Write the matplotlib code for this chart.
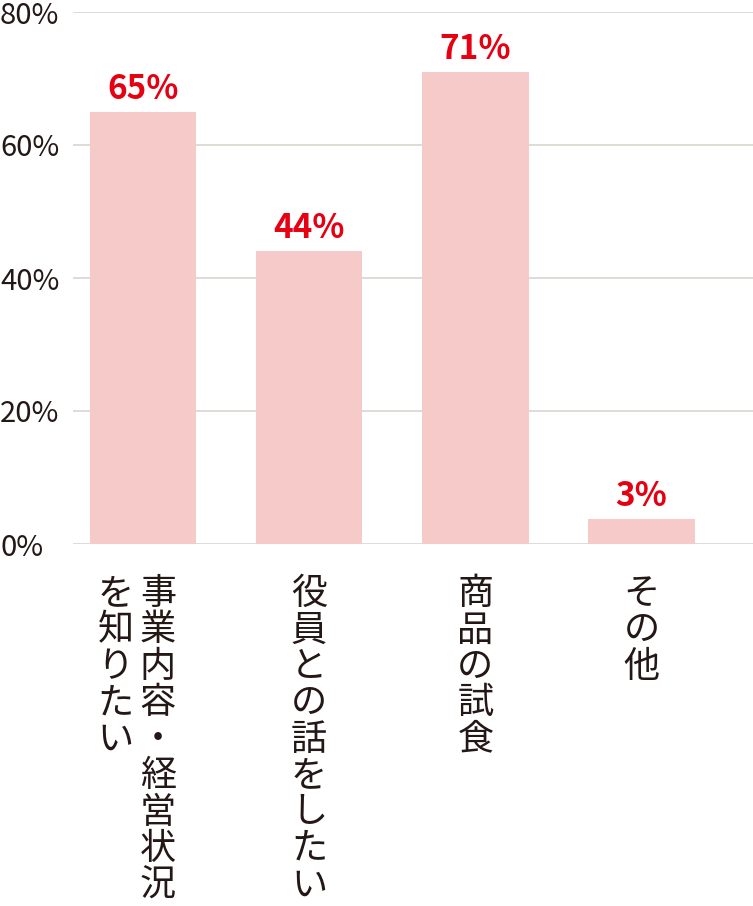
import matplotlib
matplotlib.use('Agg')
import matplotlib.pyplot as plt

plt.rcParams['font.family'] = ['Noto Sans CJK JP', 'DejaVu Sans']

# 各項目（縦書きの列ごと、右の列から）
categories = [['事業内容・経営状況', 'を知りたい'], ['役員との話をしたい'], ['商品の試食'], ['その他']]
values = [65, 44, 71, 3.7]
value_labels = ['65%', '44%', '71%', '3%']
yticks = [0, 20, 40, 60, 80]
ytick_labels = ['0%', '20%', '40%', '60%', '80%']

bar_color = '#f7caca'
red = '#e50012'
text_color = '#231815'
grid_color = '#d9d5ce'

fig = plt.figure(figsize=(7.53, 9.06), dpi=100)
ax = fig.add_axes([73 / 753, 1 - 544 / 906, 1 - 73 / 753, 532 / 906])

x = list(range(len(values)))
ax.bar(x, values, width=0.64, color=bar_color, zorder=2)
ax.set_xlim(-0.42, 3.67)
ax.set_ylim(0, 80)

ax.set_yticks(yticks)
ax.set_yticklabels(ytick_labels)
ax.tick_params(axis='y', length=0, pad=52.5, labelsize=21, labelcolor=text_color)
for lbl in ax.get_yticklabels():
    lbl.set_horizontalalignment('left')
ax.set_xticks([])
for s in ax.spines.values():
    s.set_visible(False)
ax.yaxis.grid(True, color=grid_color, linewidth=1.2, zorder=1)
ax.set_axisbelow(True)

# 値ラベル
for i, v in enumerate(values):
    ax.annotate(value_labels[i], xy=(i, v), xytext=(0, 6), textcoords='offset pixels',
                ha='center', va='bottom', fontsize=24, fontweight='bold', color=red)

# 縦書きのカテゴリ名
pitch = 42
for i, cols in enumerate(categories):
    n = len(cols)
    for k, col in enumerate(cols):
        dx = (n - 1) * pitch / 2 - k * pitch - (n - 1) * 6
        ax.annotate('\n'.join(col), xy=(i, 0), xytext=(dx, -32), textcoords='offset pixels',
                    ha='center', va='top', fontsize=26, color=text_color,
                    linespacing=1.015, annotation_clip=False)

fig.savefig('out.png', dpi=100)
